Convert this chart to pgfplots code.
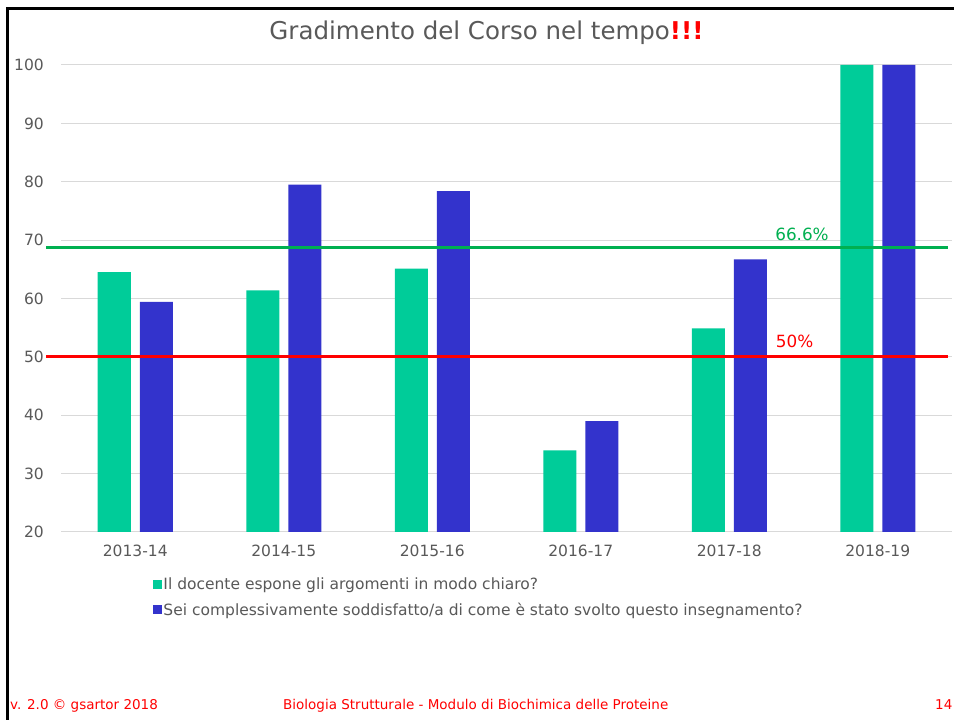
\documentclass[border=0pt]{standalone}
\usepackage{pgfplots}
\pgfplotsset{compat=1.18}
\usepackage{fontspec}
\setmainfont{DejaVu Sans}
\definecolor{cgreen}{RGB}{0,204,153}
\definecolor{cblue}{RGB}{51,51,204}
\definecolor{txtgray}{RGB}{89,89,89}
\definecolor{gridgray}{RGB}{217,217,217}
\definecolor{lgreen}{RGB}{0,176,80}
\definecolor{lred}{RGB}{255,0,0}
\begin{document}
\begin{tikzpicture}
\useasboundingbox (0,0) rectangle (954bp,720bp);
\fill[white] (0,0) rectangle (954bp,720bp);
\begin{axis}[
  at={(61bp,188bp)}, anchor=south west,
  width=891bp, height=467bp, scale only axis,
  xmin=-0.5, xmax=5.5, ymin=20, ymax=100,
  enlargelimits=false, clip=false,
  axis line style={draw=none},
  ymajorgrids, grid style={gridgray, line width=1bp},
  ytick={20,30,...,100},
  xtick={0,1,2,3,4,5},
  xticklabels={2013-14,2014-15,2015-16,2016-17,2017-18,2018-19},
  major tick length=0pt,
  tick label style={font=\fontsize{15.5bp}{18bp}\selectfont, text=txtgray},
  /pgf/number format/assume math mode=true,
  yticklabel style={inner sep=0pt, anchor=east, xshift=-17bp},
  xticklabel style={inner sep=0pt, anchor=north, yshift=-13bp},
  ybar=9bp, bar width=33bp,
  title={\textcolor{txtgray}{Gradimento del Corso nel tempo}\textcolor{lred}{\textbf{!!!}}},
  title style={font=\fontsize{24.5bp}{28bp}\selectfont, at={(0.5,1)}, anchor=base, yshift=20bp, xshift=-20bp, inner sep=0pt},
  legend style={at={(0.103,0)}, anchor=north west, yshift=-44bp, draw=none, fill=none,
    font=\fontsize{15.5bp}{18bp}\selectfont, text=txtgray, inner sep=0pt,
    row sep=9bp, nodes={inner sep=1.5bp}},
  legend cell align=left,
  legend image code/.code={\fill[#1] (0bp,-4.5bp) rectangle (9bp,4.5bp);},
]
\addplot[fill=cgreen, draw=none] coordinates {(0,64.5) (1,61.4) (2,65.1) (3,34.0) (4,54.9) (5,100)};
\addplot[fill=cblue, draw=none] coordinates {(0,59.4) (1,79.5) (2,78.4) (3,39.0) (4,66.7) (5,100)};
\legend{Il docente espone gli argomenti in modo chiaro?, Sei complessivamente soddisfatto/a di come è stato svolto questo insegnamento?}
\addplot[sharp plot, lgreen, line width=2.5bp, forget plot] coordinates {(-0.6,68.7) (5.47,68.7)};
\addplot[sharp plot, lred, line width=2.5bp, forget plot] coordinates {(-0.6,50.1) (5.47,50.1)};
\node[lgreen, font=\fontsize{16.8bp}{19bp}\selectfont, anchor=base, inner sep=0pt] at (axis cs:4.49,69.9) {66.6\%};
\node[lred, font=\fontsize{16.8bp}{19bp}\selectfont, anchor=base, inner sep=0pt] at (axis cs:4.44,51.6) {50\%};
\end{axis}
\draw[black, line width=2.5bp] (7.3bp,0) -- (7.3bp,711.3bp) -- (954bp,711.3bp);
\node[anchor=base west, inner sep=0pt, text=lred, font=\fontsize{13.5bp}{15bp}\selectfont] at (10bp,11bp) {v. 2.0 © gsartor 2018};
\node[anchor=base west, inner sep=0pt, text=lred, font=\fontsize{13.5bp}{15bp}\selectfont] at (283bp,11bp) {Biologia Strutturale - Modulo di Biochimica delle Proteine};
\node[anchor=base west, inner sep=0pt, text=lred, font=\fontsize{13.5bp}{15bp}\selectfont] at (935bp,11bp) {14};
\end{tikzpicture}
\end{document}
